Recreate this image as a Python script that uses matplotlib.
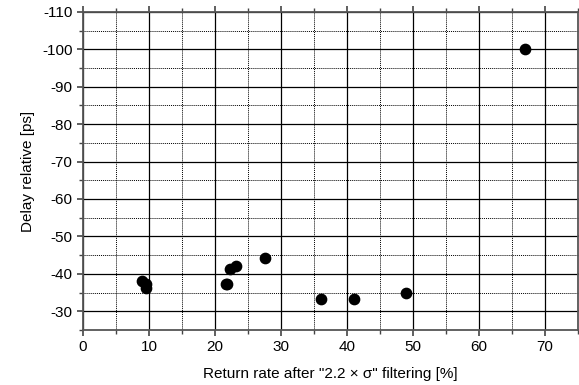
import matplotlib.pyplot as plt
from matplotlib.ticker import MultipleLocator

plt.rcParams['font.family'] = ['Liberation Sans', 'DejaVu Sans']
plt.rcParams['axes.unicode_minus'] = False

# data
rate = [9.0, 9.5, 9.5, 21.6, 21.8, 22.3, 23.1, 27.5, 36.0, 41.0, 49.0, 67.0]
delay = [-38.1, -37.2, -36.1, -37.2, -37.2, -41.3, -42.2, -44.2, -33.3, -33.3, -35.0, -100.0]

xticks = [0, 10, 20, 30, 40, 50, 60, 70]
yticks = [-30, -40, -50, -60, -70, -80, -90, -100, -110]

fig = plt.figure(figsize=(5.79, 3.85), dpi=100)
ax = fig.add_axes([0.1434, 0.143, 0.855, 0.826])

ax.scatter(rate, delay, s=55, c='black', zorder=3)

ax.set_xlim(0, 75)
ax.set_ylim(-25, -110)
ax.set_xticks(xticks)
ax.set_yticks(yticks)
ax.xaxis.set_minor_locator(MultipleLocator(5))
ax.yaxis.set_minor_locator(MultipleLocator(5))

ax.grid(which='major', color='black', linestyle='-', linewidth=0.9)
ax.grid(which='minor', color='black', linestyle=(0, (1, 1)), linewidth=0.7)
ax.set_axisbelow(True)

ax.tick_params(which='both', direction='out', top=True, right=True,
               labelsize=11, color='#444444')
ax.tick_params(which='major', length=4, width=1.2)
ax.tick_params(which='minor', length=3, width=1)
for s in ax.spines.values():
    s.set_color('#555555')
    s.set_linewidth(1.3)

ax.set_xlabel('Return rate after "2.2 \u00d7 \u03c3" filtering [%]', fontsize=11, labelpad=9)
ax.set_ylabel('Delay relative [ps]', fontsize=11, labelpad=5)

fig.savefig('out.png', dpi=100)
